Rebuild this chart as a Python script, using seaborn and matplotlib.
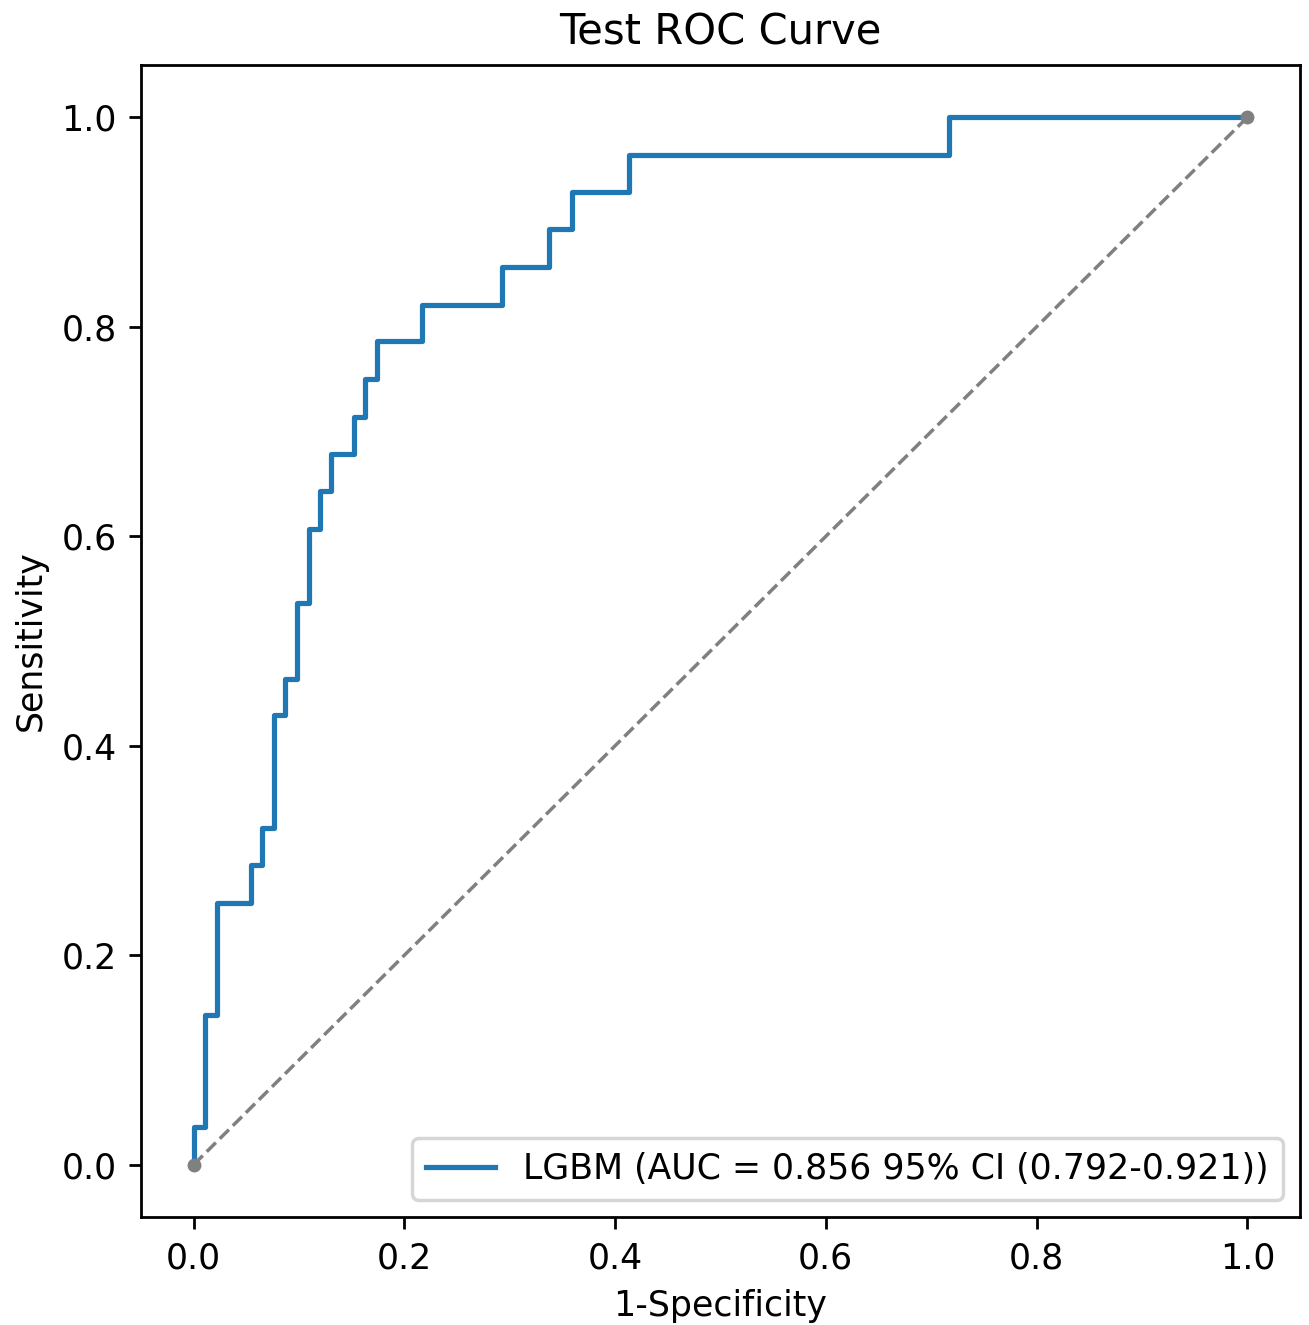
import numpy as np
import pandas as pd
import matplotlib
matplotlib.use("Agg")
import matplotlib.pyplot as plt
import seaborn as sns

# ROC operating points (FPR where sensitivity jumps, sensitivity reached)
fpr_steps = [0.0, 0.0, 0.011, 0.022, 0.054, 0.065, 0.076, 0.087, 0.098, 0.109,
             0.120, 0.130, 0.152, 0.163, 0.174, 0.217, 0.293, 0.337, 0.359,
             0.413, 0.717, 1.0]
tpr_steps = [0.0, 0.036, 0.143, 0.250, 0.286, 0.321, 0.429, 0.464, 0.536, 0.607,
             0.643, 0.679, 0.714, 0.750, 0.786, 0.821, 0.857, 0.893, 0.929,
             0.964, 1.0, 1.0]
legend_label = "LGBM (AUC = 0.856 95% CI (0.792-0.921))"
diag_x = [0.0, 1.0]
diag_y = [0.0, 1.0]

# expand into corner points of the step curve
xs, ys = [fpr_steps[0]], [tpr_steps[0]]
for i in range(1, len(fpr_steps)):
    xs.append(fpr_steps[i]); ys.append(tpr_steps[i - 1])
    xs.append(fpr_steps[i]); ys.append(tpr_steps[i])
roc_df = pd.DataFrame({"fpr": xs, "tpr": ys})

fig = plt.figure(figsize=(1309 / 250, 1325 / 250), dpi=250)
ax = fig.add_axes([141 / 1309, 1 - 1217 / 1325, (1300 - 141) / 1309, (1217 - 65) / 1325])

sns.lineplot(data=roc_df, x="fpr", y="tpr", estimator=None, sort=False,
             color="#1f77b4", linewidth=1.5, label=legend_label, ax=ax)
ax.plot(diag_x, diag_y, linestyle="--", marker="o", color="gray",
        linewidth=1.0, markersize=3)

ax.set_xlim(-0.05, 1.05)
ax.set_ylim(-0.05, 1.05)
ax.set_xticks(np.arange(0, 1.01, 0.2))
ax.set_yticks(np.arange(0, 1.01, 0.2))
ax.set_xlabel("1-Specificity")
ax.set_ylabel("Sensitivity")
ax.set_title("Test ROC Curve")
ax.legend(loc="lower right")

fig.savefig("out.png", dpi=250)
